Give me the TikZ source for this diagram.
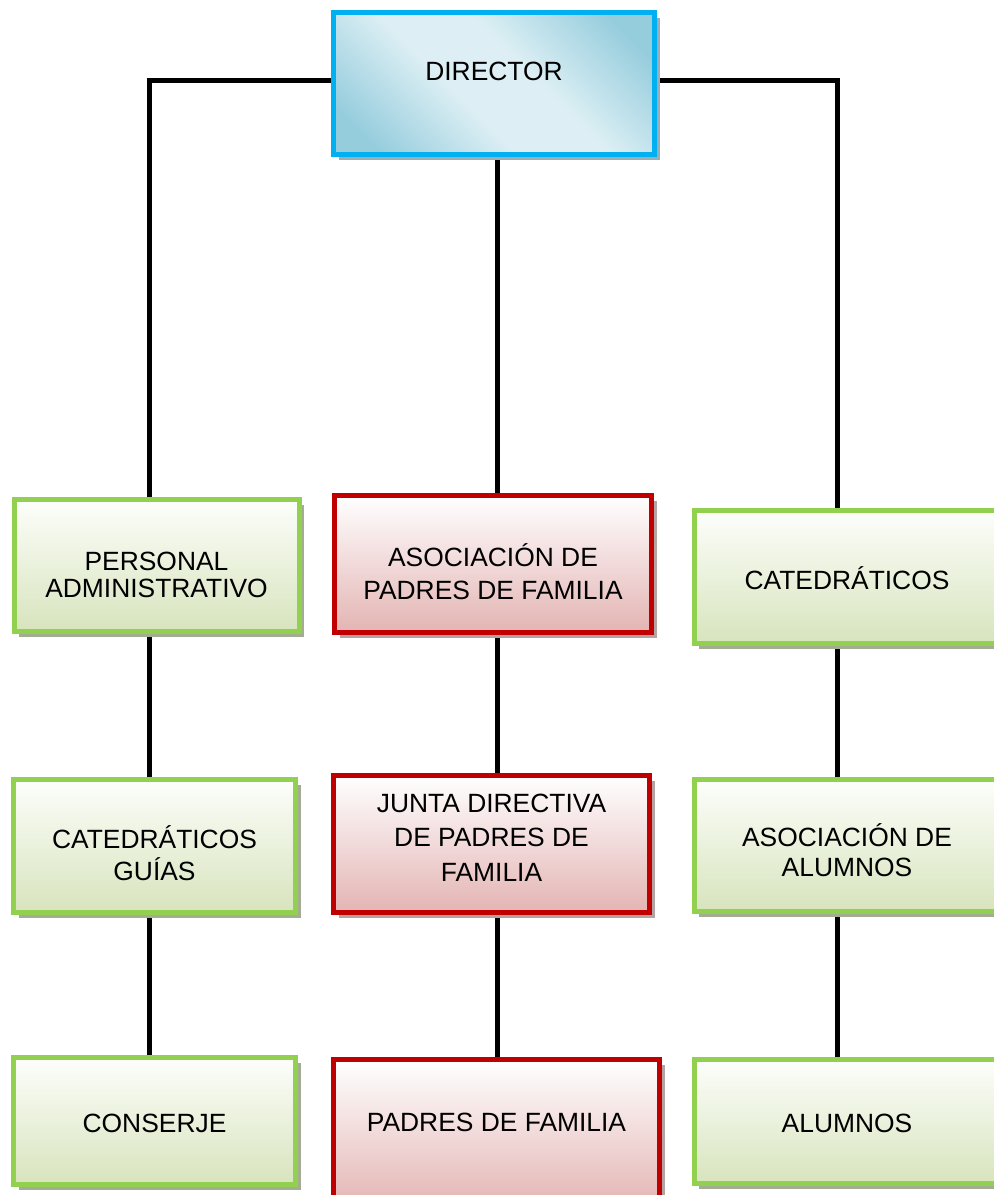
\documentclass[tikz,border=0pt]{standalone}
\usepackage{fontspec}
\setmainfont{Liberation Sans}
\usetikzlibrary{shadows,backgrounds}
\definecolor{gborder}{HTML}{92D050}
\definecolor{gtop}{HTML}{FDFEFB}
\definecolor{gbot}{HTML}{D7E4BD}
\definecolor{gshadow}{HTML}{A4AC94}
\definecolor{rborder}{HTML}{C00000}
\definecolor{rtop}{HTML}{FFFFFF}
\definecolor{rbot}{HTML}{E3B4B3}
\definecolor{rshadow}{HTML}{B3A3A3}
\definecolor{bborder}{HTML}{00B0F0}
\definecolor{dirlt}{HTML}{DDEFF4}
\definecolor{dirdk}{HTML}{96CDDD}
\definecolor{bshadow}{HTML}{9AAEB5}
\pgfdeclarehorizontalshading{dirsh}{100bp}{color(0bp)=(dirdk); color(22bp)=(dirdk); color(43bp)=(dirlt); color(57bp)=(dirlt); color(78bp)=(dirdk); color(100bp)=(dirdk)}
\newcommand\boxtxt[3]{\raisebox{#1}[\height][\depth]{\fontsize{13.2}{#2}\selectfont\begin{tabular}{@{}c@{}}#3\end{tabular}}}
\tikzset{
  box/.style={rectangle, line width=2.5pt, align=center, inner sep=0pt,
    font=\fontsize{13.2}{15}\selectfont, text=black},
  gbox/.style={box, draw=gborder, top color=gtop, bottom color=gbot,
    drop shadow={shadow xshift=2.6pt, shadow yshift=-2.6pt, fill=gshadow, opacity=1}},
  rbox/.style={box, draw=rborder, top color=rtop, bottom color=rbot,
    drop shadow={shadow xshift=2.6pt, shadow yshift=-2.6pt, fill=rshadow, opacity=1}},
  dbox/.style={box, draw=bborder, shading=dirsh, shading angle=45,
    drop shadow={shadow xshift=2.6pt, shadow yshift=-2.6pt, fill=bshadow, opacity=1}},
  conn/.style={line width=2.5pt, draw=black, line join=miter}
}
\begin{document}
\begin{tikzpicture}[x=0.5pt,y=-0.5pt]
\useasboundingbox (0,0) rectangle (993,1195);
\coordinate (lx) at (149,0);
\coordinate (cx) at (497,0);
\coordinate (rx) at (837,0);
% top
\node[dbox, minimum width=160.5pt, minimum height=71pt] (dir) at (494,83.5) {\boxtxt{4.6pt}{15}{DIRECTOR}};
% row 1
\node[gbox, minimum width=142.5pt, minimum height=66pt] (pa) at (156.5,565.5)
  {\boxtxt{-6.7pt}{13.4}{PERSONAL\\ADMINISTRATIVO}};
\node[rbox, minimum width=158.5pt, minimum height=68.5pt] (apf) at (493,564)
  {\boxtxt{-6.1pt}{16.5}{ASOCIACIÓN DE\\PADRES DE FAMILIA}};
\node[gbox, minimum width=153pt, minimum height=66.5pt] (cat) at (847,577) {\boxtxt{-2.65pt}{15}{CATEDRÁTICOS}};
% row 2
\node[gbox, minimum width=141pt, minimum height=66.5pt] (cg) at (154.5,846)
  {\boxtxt{-6pt}{15.8}{CATEDRÁTICOS\\GUÍAS}};
\node[rbox, minimum width=158pt, minimum height=68.5pt] (jd) at (491.5,844)
  {\boxtxt{2pt}{17.2}{JUNTA DIRECTIVA\\DE PADRES DE\\FAMILIA}};
\node[gbox, minimum width=153pt, minimum height=66pt] (aa) at (847,845.5)
  {\boxtxt{-4.65pt}{15}{ASOCIACIÓN DE\\ALUMNOS}};
% row 3
\node[gbox, minimum width=141pt, minimum height=63.5pt] (con) at (154.5,1121) {\boxtxt{-2.9pt}{15}{CONSERJE}};
\node[rbox, minimum width=163pt, minimum height=75pt] (pf) at (496.5,1134.5) {\boxtxt{4.35pt}{15}{PADRES DE FAMILIA}};
\node[gbox, minimum width=153pt, minimum height=62pt] (al) at (847,1121.5) {\boxtxt{-2.4pt}{15}{ALUMNOS}};
% connectors
\begin{scope}[on background layer]
\draw[conn] ([yshift=1.4pt]dir.west) -| (lx |- pa.north);
\draw[conn] ([yshift=1.4pt]dir.east) -| (rx |- cat.north);
\draw[conn] (cx |- dir.south) -- (cx |- apf.north);
\draw[conn] (lx |- pa.south) -- (lx |- cg.north);
\draw[conn] (lx |- cg.south) -- (lx |- con.north);
\draw[conn] (cx |- apf.south) -- (cx |- jd.north);
\draw[conn] (cx |- jd.south) -- (cx |- pf.north);
\draw[conn] (rx |- cat.south) -- (rx |- aa.north);
\draw[conn] (rx |- aa.south) -- (rx |- al.north);
\end{scope}
\end{tikzpicture}
\end{document}
